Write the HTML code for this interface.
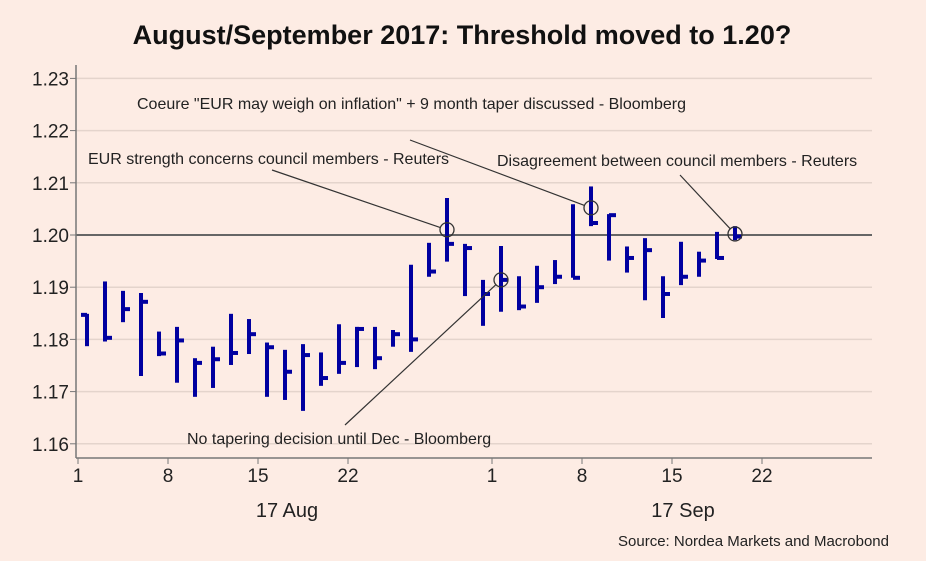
<!DOCTYPE html>
<html><head><meta charset="utf-8"><style>
body{margin:0;background:#fff;}
svg{display:block;font-family:"Liberation Sans",sans-serif;}
</style></head><body>
<svg id="chart" width="926" height="561">
<rect x="0" y="0" width="926" height="561" fill="#fdece4"/>
<text x="462" y="44" text-anchor="middle" font-size="27" font-weight="bold" fill="#111">August/September 2017: Threshold moved to 1.20?</text>
<g id="grid"></g><g id="bars"></g><g id="ann"></g>
<text x="889" y="546" text-anchor="end" font-size="15" fill="#222">Source: Nordea Markets and Macrobond</text>
</svg>
<script>
const yTicks=[1.16,1.17,1.18,1.19,1.20,1.21,1.22,1.23];
const xTickLabels=["1","8","15","22","1","8","15","22"];
const xTickIdx=[0,5,10,15,23,28,33,38];
const highs=[1.1849,1.1911,1.1893,1.1889,1.1815,1.1824,1.1764,1.1786,1.1849,1.1839,1.1794,1.1780,1.1791,1.1775,1.1829,1.1824,1.1824,1.1818,1.1943,1.1985,1.2071,1.1983,1.1914,1.1979,1.1921,1.1941,1.1952,1.2059,1.2093,1.2040,1.1978,1.1994,1.1921,1.1987,1.1968,1.2006,1.2017];
const lows=[1.1787,1.1796,1.1833,1.1730,1.1768,1.1717,1.1690,1.1707,1.1751,1.1772,1.1690,1.1684,1.1663,1.1711,1.1734,1.1747,1.1743,1.1786,1.1776,1.1920,1.1949,1.1883,1.1826,1.1853,1.1856,1.1870,1.1906,1.1918,1.2017,1.1951,1.1928,1.1875,1.1841,1.1904,1.1920,1.1954,1.1990];
const opens=[1.1847,null,null,null,null,null,null,null,null,null,null,null,null,null,null,null,null,null,null,null,null,null,null,null,null,null,null,null,null,null,null,null,null,null,null,null,null];
const closes=[null,1.1803,1.1858,1.1872,1.1773,1.1798,1.1755,1.1762,1.1774,1.1810,1.1785,1.1738,1.1770,1.1726,1.1755,1.1820,1.1764,1.1810,1.1800,1.1930,1.1983,1.1975,1.1887,1.1914,1.1863,1.1900,1.1920,1.1918,1.2023,1.2038,1.1956,1.1971,1.1887,1.1920,1.1951,1.1956,1.1997];
const NS="http://www.w3.org/2000/svg";
const X0=78,DX=18,Y120=235,PY=5220;
function xs(i){return X0+i*DX;}
function ys(v){return Y120+(1.20-v)*PY;}
function mk(p,tag,a){const e=document.createElementNS(NS,tag);for(const k in a)e.setAttribute(k,a[k]);p.appendChild(e);return e;}
const g=document.getElementById('grid');
yTicks.forEach(v=>{
 const l=mk(g,'line',{x1:76,x2:872,y1:ys(v),y2:ys(v),stroke:v===1.20?'#666':'#e4d4cc','stroke-width':v===1.20?2:1.5});
 
 
 const t=mk(g,'text',{x:69,y:ys(v)+7,'text-anchor':'end','font-size':19,fill:'#222'});t.textContent=v.toFixed(2);
 
 
 const tk=mk(g,'line',{x1:70,x2:76,y1:ys(v),y2:ys(v),stroke:'#777'});
 
 
});
const ax=mk(g,'line',{x1:76,x2:76,y1:65,y2:458,stroke:'#777','stroke-width':1.5});


const bx=mk(g,'line',{x1:76,x2:872,y1:458,y2:458,stroke:'#777','stroke-width':1.5});


xTickIdx.forEach((i,k)=>{
 const tk=mk(g,'line',{x1:xs(i),x2:xs(i),y1:458,y2:464,stroke:'#777'});
 
 
 const t=mk(g,'text',{x:xs(i),y:482,'text-anchor':'middle','font-size':19,fill:'#222'});t.textContent=xTickLabels[k];
 
 
});
[["17 Aug",287],["17 Sep",683]].forEach(m=>{
 const t=mk(g,'text',{x:m[1],y:517,'text-anchor':'middle','font-size':20,fill:'#222'});t.textContent=m[0];
 
 
});
const b=document.getElementById('bars');
highs.forEach((h,i)=>{
 const x=xs(i)+9;
 const grp=mk(b,'g',{stroke:'#0000a0','stroke-width':4,fill:'none'});
 
 
 mk(grp,'line',{x1:x,x2:x,y1:ys(h),y2:ys(lows[i])});
 if(opens[i]!==null)mk(grp,'line',{x1:x-6,x2:x,y1:ys(opens[i]),y2:ys(opens[i])});
 if(closes[i]!==null)mk(grp,'line',{x1:x,x2:x+7,y1:ys(closes[i]),y2:ys(closes[i])});
});
const an=document.getElementById('ann');
const notes=[
 {t:'Coeure "EUR may weigh on inflation" + 9 month taper discussed - Bloomberg',tx:137,ty:109,l:[410,140],i:28,v:1.2052},
 {t:'EUR strength concerns council members - Reuters',tx:88,ty:164,l:[272,170],i:20,v:1.2010},
 {t:'Disagreement between council members - Reuters',tx:497,ty:166,l:[680,175],i:36,v:1.2002},
 {t:'No tapering decision until Dec - Bloomberg',tx:187,ty:444,l:[345,425],i:23,v:1.1914}
];
notes.forEach(n=>{
 const cx=xs(n.i)+9,cy=ys(n.v);
 const dx=cx-n.l[0],dy=cy-n.l[1],d=Math.hypot(dx,dy);
 const ln=mk(an,'line',{x1:n.l[0],y1:n.l[1],x2:cx-dx/d*7,y2:cy-dy/d*7,stroke:'#333','stroke-width':1.2});
 
 
 const c=mk(an,'circle',{cx:cx,cy:cy,r:7,fill:'none',stroke:'#333','stroke-width':1.3});
 
 
 const t=mk(an,'text',{x:n.tx,y:n.ty,'font-size':16,fill:'#222'});t.textContent=n.t;
 
 
});
</script>
</body></html>
